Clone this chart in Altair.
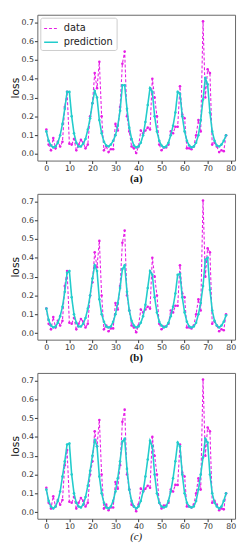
import altair as alt
import pandas as pd

x_vals = list(range(79))

data_vals = [0.13, 0.05, 0.02, 0.085, 0.03, 0.065, 0.04, 0.065, 0.25, 0.33,
             0.055, 0.05, 0.08, 0.02, 0.05, 0.075, 0.06, 0.03, 0.05, 0.2,
             0.27, 0.43, 0.35, 0.49, 0.2, 0.02, 0.04, 0.01, 0.025, 0.025,
             0.16, 0.125, 0.25, 0.48, 0.545, 0.2, 0.12, 0.04, 0.03, 0.005,
             0.04, 0.125, 0.11, 0.125, 0.14, 0.13, 0.4, 0.3, 0.2, 0.05,
             0.02, 0.035, 0.035, 0.05, 0.12, 0.11, 0.145, 0.145, 0.36, 0.21,
             0.19, 0.03, 0.03, 0.025, 0.04, 0.1, 0.18, 0.12, 0.705, 0.3,
             0.45, 0.43, 0.05, 0.06, 0.04, 0.01, 0.02, 0.015, 0.1]

pred_a = [0.12, 0.07, 0.045, 0.035, 0.04, 0.06, 0.1, 0.16, 0.24, 0.33,
          0.33, 0.2, 0.11, 0.06, 0.04, 0.04, 0.055, 0.08, 0.13, 0.19,
          0.27, 0.335, 0.3, 0.18, 0.11, 0.065, 0.045, 0.04, 0.05, 0.07,
          0.1, 0.15, 0.23, 0.365, 0.365, 0.24, 0.14, 0.08, 0.045, 0.035,
          0.04, 0.06, 0.1, 0.17, 0.26, 0.35, 0.33, 0.2, 0.12, 0.07,
          0.045, 0.035, 0.04, 0.06, 0.1, 0.15, 0.22, 0.33, 0.32, 0.2,
          0.12, 0.07, 0.045, 0.035, 0.04, 0.06, 0.1, 0.18, 0.29, 0.405,
          0.37, 0.22, 0.12, 0.07, 0.045, 0.04, 0.05, 0.07, 0.1]

pred_b = [0.13, 0.07, 0.04, 0.03, 0.035, 0.055, 0.09, 0.14, 0.22, 0.32,
          0.33, 0.19, 0.1, 0.055, 0.035, 0.035, 0.05, 0.08, 0.13, 0.2,
          0.29, 0.36, 0.33, 0.18, 0.1, 0.06, 0.035, 0.03, 0.035, 0.06,
          0.1, 0.16, 0.24, 0.34, 0.36, 0.22, 0.12, 0.065, 0.04, 0.03,
          0.035, 0.055, 0.09, 0.15, 0.24, 0.33, 0.31, 0.19, 0.11, 0.06,
          0.04, 0.03, 0.035, 0.055, 0.09, 0.14, 0.21, 0.31, 0.315, 0.19,
          0.11, 0.06, 0.035, 0.03, 0.035, 0.055, 0.1, 0.16, 0.25, 0.39,
          0.4, 0.23, 0.12, 0.065, 0.04, 0.03, 0.04, 0.06, 0.095]

pred_c = [0.12, 0.06, 0.03, 0.02, 0.03, 0.06, 0.11, 0.19, 0.27, 0.36,
          0.365, 0.2, 0.1, 0.05, 0.03, 0.025, 0.04, 0.08, 0.14, 0.22,
          0.3, 0.385, 0.35, 0.19, 0.1, 0.05, 0.025, 0.02, 0.03, 0.06,
          0.11, 0.18, 0.27, 0.375, 0.39, 0.23, 0.12, 0.06, 0.03, 0.02,
          0.03, 0.06, 0.11, 0.19, 0.28, 0.38, 0.35, 0.2, 0.1, 0.05,
          0.03, 0.025, 0.03, 0.06, 0.11, 0.18, 0.27, 0.37, 0.35, 0.2,
          0.1, 0.05, 0.03, 0.025, 0.03, 0.06, 0.12, 0.2, 0.29, 0.39,
          0.37, 0.2, 0.1, 0.05, 0.03, 0.02, 0.03, 0.06, 0.1]

captions = ["(a)", "(b)", "(c)"]
series_names = ["data", "prediction"]
colors = ["#e61ee6", "#22cccc"]

FONT = "DejaVu Sans"


def panel(pred, caption, style):
    df = pd.DataFrame({
        "x": x_vals * 2,
        "loss": data_vals + pred,
        "series": ["data"] * len(x_vals) + ["prediction"] * len(x_vals),
    })
    color = alt.Color("series:N",
                      scale=alt.Scale(domain=series_names, range=colors),
                      legend=alt.Legend(title=None, orient="top-left"))
    dash = alt.StrokeDash("series:N",
                          scale=alt.Scale(domain=series_names, range=[[3, 2], [1, 0]]),
                          legend=alt.Legend(title=None, orient="top-left"))
    sw = alt.StrokeWidth("series:N",
                         scale=alt.Scale(domain=series_names, range=[1.1, 1.6]),
                         legend=None)
    xenc = alt.X("x:Q", scale=alt.Scale(domain=[-3.9, 81.9], nice=False, zero=False),
                 axis=alt.Axis(values=list(range(0, 81, 10)), title=None))
    yenc = alt.Y("loss:Q", scale=alt.Scale(domain=[-0.035, 0.74], nice=False, zero=False),
                 axis=alt.Axis(values=[0, 0.1, 0.2, 0.3, 0.4, 0.5, 0.6, 0.7], format=".1f",
                               title="loss"))
    base = alt.Chart(df).mark_line(
        point=alt.OverlayMarkDef(size=7, filled=True)
    ).encode(x=xenc, y=yenc, color=color, strokeDash=dash, strokeWidth=sw)
    d = base.transform_filter(alt.datum.series == "data")
    p = base.transform_filter(alt.datum.series == "prediction")
    return alt.layer(d, p).properties(
        width=202, height=149,
        title=alt.TitleParams(caption, orient="bottom", font="Liberation Serif",
                              fontSize=11, fontWeight=style[0], fontStyle=style[1],
                              color="#111", offset=1),
    )


styles = [("bold", "normal"), ("bold", "normal"), ("normal", "italic")]
chart = alt.vconcat(
    *[panel(p, c, s) for p, c, s in zip([pred_a, pred_b, pred_c], captions, styles)],
    spacing=8,
).properties(padding={"left": 0, "top": 0, "right": 0, "bottom": 0}).configure_view(
    stroke="#666", strokeWidth=1
).configure_axis(
    grid=False, domain=False, labelFont=FONT, labelFontSize=8, labelColor="#333",
    tickColor="#333", tickSize=3, labelPadding=1, titleFont=FONT, titleFontSize=11,
    titleFontWeight="normal", titleColor="#111", titlePadding=1
).configure_legend(
    labelFont=FONT, labelFontSize=10, labelColor="#222", symbolType="stroke",
    symbolSize=200, symbolStrokeWidth=1.6, strokeColor="#ccc", fillColor="white",
    padding=3, cornerRadius=2, rowPadding=1, offset=3, labelOffset=5
)

chart.save("out.html", embed_options={"renderer": "svg", "actions": False})
